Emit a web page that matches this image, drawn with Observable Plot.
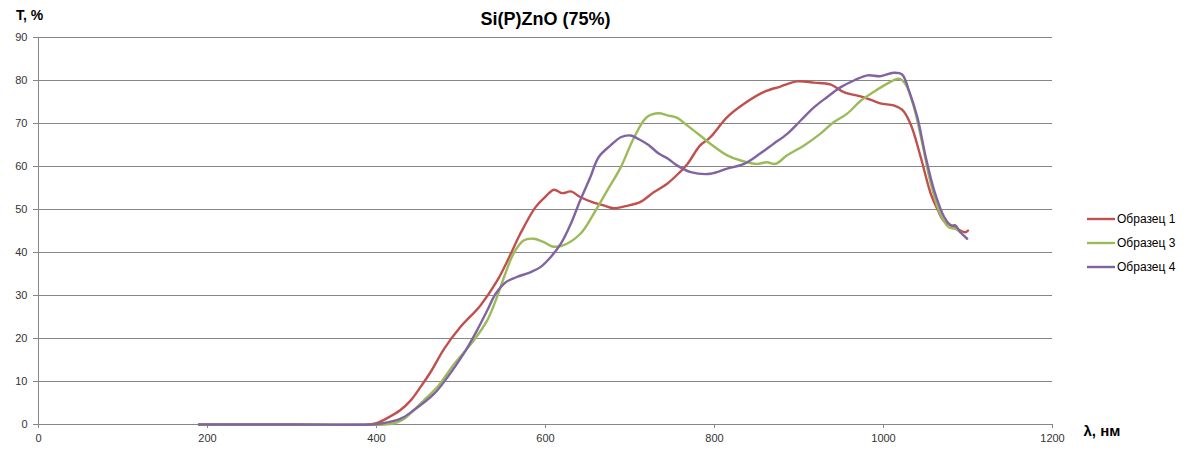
<!DOCTYPE html>
<html>
<head>
<meta charset="utf-8">
<script src="https://cdn.jsdelivr.net/npm/d3@7"></script>
<script src="https://cdn.jsdelivr.net/npm/@observablehq/plot@0.6"></script>
<style>
  html, body { margin: 0; padding: 0; background: #fff; }
  #chart { width: 1190px; height: 450px; }
</style>
</head>
<body>
<div id="chart"></div>
<script>
// Transmission spectra of Si(P)ZnO (75%) samples: wavelength (nm) vs T (%)
const seriesNames = ["Образец 1", "Образец 3", "Образец 4"];
const seriesColors = ["#C0504D", "#9BBB59", "#8064A2"];

const sample1Wl = [190, 300, 390, 400, 410, 428, 440, 452, 465, 480, 499, 523, 543, 557, 570, 588, 600, 610, 620, 630, 641, 657, 668, 681, 695, 712, 728, 744, 758, 768, 783, 795, 815, 835, 858, 878, 898, 918, 937, 953, 977, 996, 1012, 1022, 1032, 1044, 1056, 1064, 1071, 1080, 1087, 1097, 1100];
const sample1T  = [0, 0, 0, 0.3, 1.2, 3.3, 5.5, 8.7, 12.5, 17.6, 22.6, 27.7, 33.5, 38.9, 44.3, 50.5, 53, 54.6, 53.8, 54.2, 52.9, 51.6, 51, 50.3, 50.8, 51.7, 54, 56, 58.5, 60.6, 64.9, 66.8, 71.5, 74.6, 77.3, 78.6, 79.8, 79.5, 79.1, 77.3, 76.1, 74.7, 74.2, 73.2, 69.9, 62.2, 53.6, 50, 47.4, 46.3, 45.5, 44.7, 45.1];

const sample3Wl = [190, 300, 410, 420, 432, 444, 458, 472, 492, 515, 531, 541, 551, 562, 574, 586, 598, 608, 620, 641, 657, 673, 689, 704, 720, 734, 744, 756, 768, 783, 795, 815, 831, 850, 862, 872, 886, 906, 925, 941, 957, 973, 988, 1004, 1018, 1026, 1036, 1046, 1056, 1067, 1077, 1085, 1092];
const sample3T  = [0, 0, 0, 0.2, 1.2, 3.3, 6, 8.7, 14.1, 19.5, 24.2, 28.8, 34.3, 39.7, 42.8, 43.2, 42.4, 41.4, 41.6, 44.3, 49, 54.4, 59.8, 66.4, 71.5, 72.4, 71.9, 71.3, 69.5, 67.2, 65.3, 62.6, 61.4, 60.6, 61, 60.6, 62.6, 64.9, 67.6, 70.3, 72.3, 75.3, 77.3, 79.2, 80.4, 79.2, 73.8, 65.3, 56, 49, 45.9, 45.5, 44.6];

const sample4Wl = [190, 300, 395, 405, 428, 444, 468, 484, 503, 519, 531, 541, 553, 566, 582, 594, 606, 618, 630, 641, 653, 663, 677, 689, 701, 710, 722, 734, 745, 756, 772, 795, 815, 835, 854, 870, 886, 902, 918, 933, 949, 965, 981, 996, 1012, 1022, 1030, 1040, 1050, 1060, 1072, 1080, 1085, 1091, 1099];
const sample4T  = [0, 0, 0, 0.2, 1.3, 3.3, 7.1, 11, 16.4, 21.9, 26.5, 30.4, 33.1, 34.3, 35.4, 36.6, 38.9, 42, 46.7, 52.1, 57.5, 62.2, 64.9, 66.8, 67.2, 66.4, 65, 63, 61.8, 60.2, 58.7, 58.3, 59.5, 60.6, 63, 65.3, 67.6, 70.7, 73.8, 76.1, 78.4, 80, 81.2, 81, 81.8, 81.4, 77.7, 71.5, 62.2, 54.4, 48.2, 46.3, 46.3, 44.7, 43.2];

const xTicks = [0, 200, 400, 600, 800, 1000, 1200];
const yTicks = [0, 10, 20, 30, 40, 50, 60, 70, 80, 90];

const toRows = (name, wl, t) => wl.map((w, i) => ({series: name, wl: w, t: t[i]}));
const rows = [
  ...toRows(seriesNames[0], sample1Wl, sample1T),
  ...toRows(seriesNames[1], sample3Wl, sample3T),
  ...toRows(seriesNames[2], sample4Wl, sample4T)
];

const gridColor = "#868686";
const font = "'Liberation Sans', Arial, sans-serif";

const plot = Plot.plot({
  width: 1190,
  height: 450,
  marginLeft: 38,
  marginRight: 138,
  marginTop: 37,
  marginBottom: 26,
  style: {fontFamily: font, fontSize: "11px", color: "#404040", background: "#fff", overflow: "visible"},
  x: {domain: [0, 1200]},
  y: {domain: [0, 90]},
  color: {domain: seriesNames, range: seriesColors},
  marks: [
    Plot.gridY(yTicks, {stroke: gridColor, strokeOpacity: 1, strokeWidth: 1}),
    Plot.ruleX([0], {stroke: gridColor, strokeWidth: 1}),
    Plot.ruleY([0], {stroke: gridColor, strokeWidth: 1}),
    Plot.axisY(yTicks, {tickSize: 5, tickPadding: 6, label: null, stroke: gridColor, fill: "#333", tickFormat: d => String(d)}),
    Plot.axisX(xTicks, {tickSize: 4, tickPadding: 6, label: null, stroke: gridColor, fill: "#333", tickFormat: d => String(d)}),
    Plot.line(rows, {x: "wl", y: "t", z: "series", stroke: "series", strokeWidth: 2.4, curve: "catmull-rom"}),
    Plot.text(["Si(P)ZnO (75%)"], {frameAnchor: "top", lineAnchor: "middle", dy: -18, fontSize: 18, fontWeight: "bold", fill: "#000"}),
    Plot.text(["T, %"], {frameAnchor: "top-left", lineAnchor: "middle", textAnchor: "middle", dx: -9, dy: -22, fontSize: 14, fontWeight: "bold", fill: "#000"}),
    Plot.text(["λ, нм"], {frameAnchor: "bottom-right", lineAnchor: "middle", textAnchor: "start", dx: 31, dy: 7, fontSize: 15, fontWeight: "bold", fill: "#000"})
  ]
});

document.getElementById("chart").appendChild(plot);

// Legend on the right: a short line sample followed by the series name
const svg = d3.select(plot);
const legendY = [219, 243, 267];
const legend = svg.append("g")
  .attr("font-family", font)
  .attr("font-size", 12)
  .attr("text-anchor", "start");
seriesNames.forEach((name, i) => {
  legend.append("line")
    .attr("x1", 1087).attr("x2", 1115)
    .attr("y1", legendY[i]).attr("y2", legendY[i])
    .attr("stroke", seriesColors[i]).attr("stroke-width", 2.4);
  legend.append("text")
    .attr("x", 1117).attr("y", legendY[i]).attr("dy", "0.35em")
    .attr("fill", "#000")
    .text(name);
});
</script>
</body>
</html>
